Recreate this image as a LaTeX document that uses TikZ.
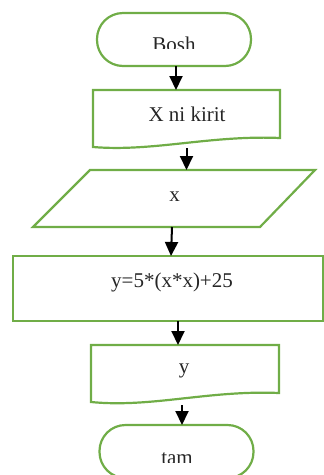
\documentclass[tikz,border=0pt]{standalone}
\usepackage{fontspec}
\setmainfont{Liberation Serif}
\usetikzlibrary{arrows.meta,calc}
\definecolor{flowgreen}{HTML}{70AD47}
\tikzset{
  outline/.style={draw=flowgreen, line width=2.2pt},
  term/.style={outline, rectangle, rounded corners=26pt, minimum width=154pt, minimum height=53pt, inner sep=0pt, outer sep=0pt},
  frame/.style={rectangle, inner sep=0pt, outer sep=0pt},
  lbl/.style={anchor=base, inner sep=0pt, font=\fontsize{21}{24}\selectfont, text=black!85},
  arr/.style={draw=black, line width=2pt, -{Triangle[length=14pt,width=13pt]}}
}
\begin{document}
\begin{tikzpicture}[x=1pt,y=-1pt]
\useasboundingbox (0,0) rectangle (324,475);
\begin{scope}
\clip (0,0) rectangle (324,475);
% start terminator
\node[term] (bosh) at (174,39.5) {};
\begin{scope}
\clip (0,0) rectangle (324,48);
\node[lbl] (tbosh) at (174,51) {Bosh};
\end{scope}
% document 1
\node[frame, minimum width=187pt, minimum height=57pt] (doc1) at (186.5,118.5) {};
\draw[outline] (doc1.south west) -- (doc1.north west) -- (doc1.north east) -- ($(doc1.south east)+(0,-9)$)
  .. controls ($(doc1.south east)+(-70,-12)$) and ($(doc1.south west)+(60,5)$) .. (doc1.south west) -- cycle;
\node[lbl] (tdoc1) at (187,121) {X ni kirit};
% input parallelogram
\node[frame, minimum width=282pt, minimum height=57pt] (io) at (174,198.5) {};
\draw[outline] (90,170) -- (315,170) -- (260,227) -- (33,227) -- cycle;
\node[lbl] (tio) at (174.5,201) {x};
% process
\node[outline, frame, minimum width=310pt, minimum height=65pt] (proc) at (168,288.5) {};
\node[lbl] (tproc) at (172,287) {y=5*(x*x)+25};
% document 2
\node[frame, minimum width=188pt, minimum height=57pt] (doc2) at (185,373.5) {};
\draw[outline] (doc2.south west) -- (doc2.north west) -- (doc2.north east) -- ($(doc2.south east)+(0,-9)$)
  .. controls ($(doc2.south east)+(-70,-12)$) and ($(doc2.south west)+(60,6)$) .. (doc2.south west) -- cycle;
\node[lbl] (tdoc2) at (184,373) {y};
% end terminator
\node[term] (tam) at (176.5,451.5) {};
\begin{scope}
\clip (0,0) rectangle (324,462);
\node[lbl] (ttam) at (177,464) {tam};
\end{scope}
% connectors
\draw[arr] ($(bosh.south)+(2,0)$) -- ($(doc1.north)+(-10.5,0)$);
\draw[arr] ($(doc1.south)+(0,1)$) -- ($(io.north)+(12.5,0)$);
\draw[arr] ($(io.south)+(-2,0)$) -- ($(proc.north)+(3,0)$);
\draw[arr] ($(proc.south)+(10,0)$) -- ($(doc2.north)+(-7,0)$);
\draw[arr] ($(doc2.south)+(-3,3)$) -- ($(tam.north)+(5.5,0)$);
\end{scope}
\end{tikzpicture}
\end{document}
